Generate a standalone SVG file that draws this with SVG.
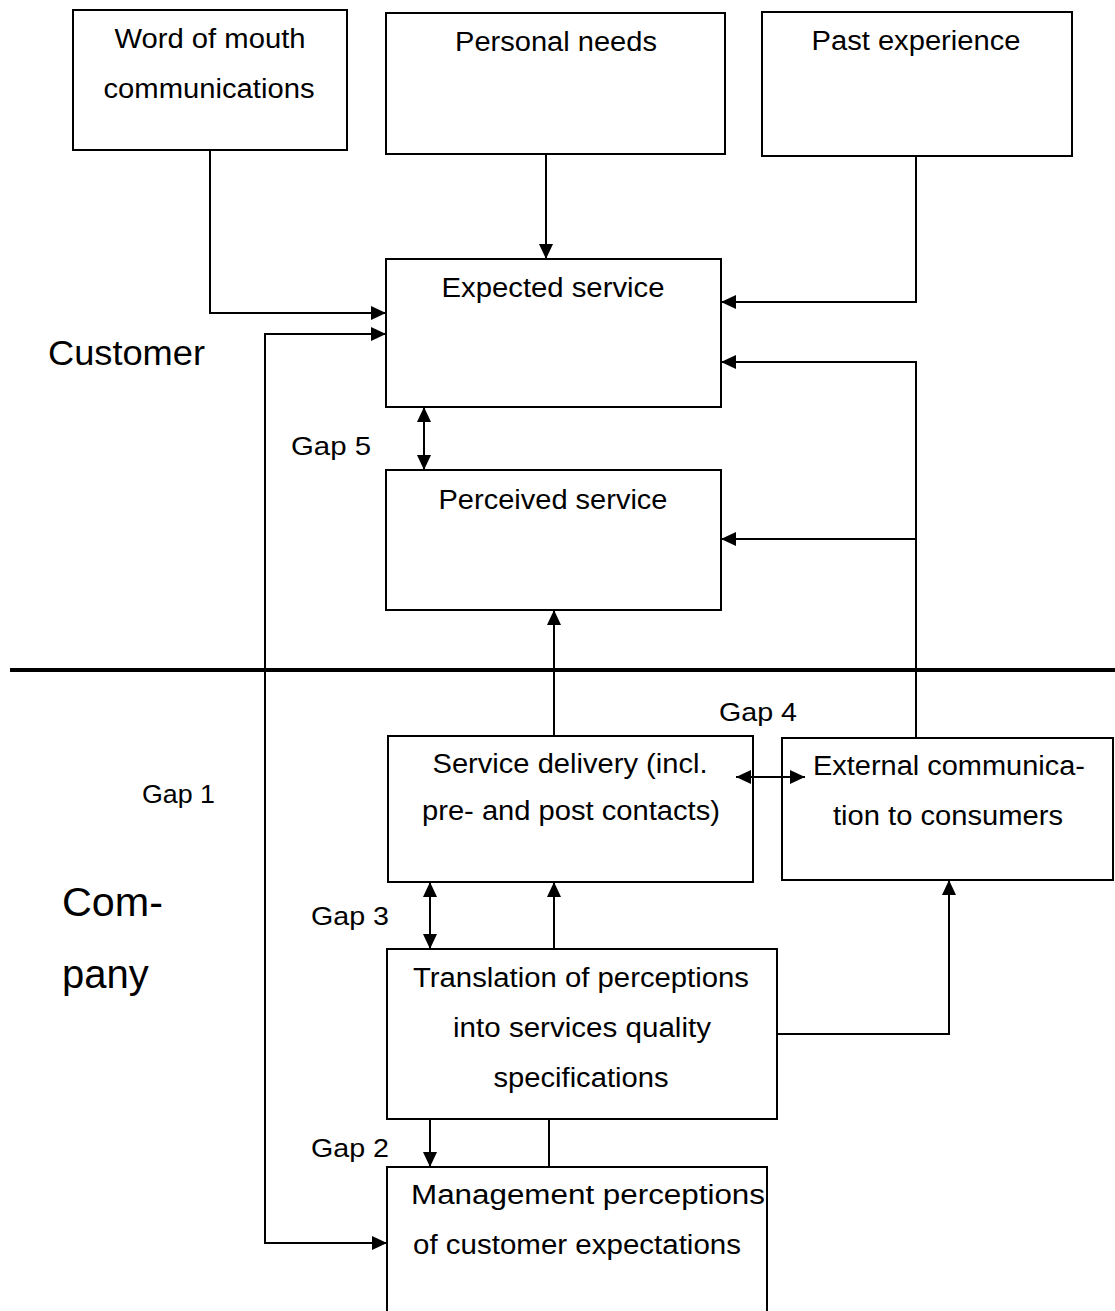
<svg xmlns="http://www.w3.org/2000/svg" width="1115" height="1311" viewBox="0 0 1115 1311">
<defs>
<marker id="ah" markerUnits="userSpaceOnUse" markerWidth="16" markerHeight="14" refX="15" refY="7" orient="auto-start-reverse">
<path d="M0,0 L15,7 L0,14 z" fill="#000"/>
</marker>
<style>
.box{fill:#fff;stroke:#000;stroke-width:2}
.t{font-family:"Liberation Sans",Arial,sans-serif;font-size:27px;fill:#000;text-anchor:middle}
.g{font-family:"Liberation Sans",Arial,sans-serif;font-size:26px;fill:#000}
.big{font-family:"Liberation Sans",Arial,sans-serif;fill:#000}
.c{fill:none;stroke:#000;stroke-width:2}
.a{marker-end:url(#ah)}
.s{marker-start:url(#ah)}
.d{marker-start:url(#ah);marker-end:url(#ah)}
</style>
</defs>
<rect width="1115" height="1311" fill="#fff"/>

<g id="word-of-mouth">
<rect class="box" x="73" y="10" width="274" height="140"/>
<text class="t" x="210" y="48" textLength="191" lengthAdjust="spacingAndGlyphs">Word of mouth</text>
<text class="t" x="209" y="98" textLength="211" lengthAdjust="spacingAndGlyphs">communications</text>
</g>
<g id="personal-needs">
<rect class="box" x="386" y="13" width="339" height="141"/>
<text class="t" x="556" y="51" textLength="202" lengthAdjust="spacingAndGlyphs">Personal needs</text>
</g>
<g id="past-experience">
<rect class="box" x="762" y="12" width="310" height="144"/>
<text class="t" x="916" y="50" textLength="209" lengthAdjust="spacingAndGlyphs">Past experience</text>
</g>
<g id="expected-service">
<rect class="box" x="386" y="259" width="335" height="148"/>
<text class="t" x="553" y="297" textLength="223" lengthAdjust="spacingAndGlyphs">Expected service</text>
</g>
<g id="perceived-service">
<rect class="box" x="386" y="470" width="335" height="140"/>
<text class="t" x="553" y="509" textLength="229" lengthAdjust="spacingAndGlyphs">Perceived service</text>
</g>
<g id="service-delivery">
<rect class="box" x="388" y="736" width="365" height="146"/>
<text class="t" x="570" y="773" textLength="275" lengthAdjust="spacingAndGlyphs">Service delivery (incl.</text>
<text class="t" x="571" y="820" textLength="298" lengthAdjust="spacingAndGlyphs">pre- and post contacts)</text>
</g>
<g id="external-communication">
<rect class="box" x="782" y="738" width="331" height="142"/>
<text class="t" x="949" y="775" textLength="272" lengthAdjust="spacingAndGlyphs">External communica-</text>
<text class="t" x="948" y="825" textLength="230" lengthAdjust="spacingAndGlyphs">tion to consumers</text>
</g>
<g id="translation">
<rect class="box" x="387" y="949" width="390" height="170"/>
<text class="t" x="581" y="987" textLength="336" lengthAdjust="spacingAndGlyphs">Translation of perceptions</text>
<text class="t" x="582" y="1037" textLength="258" lengthAdjust="spacingAndGlyphs">into services quality</text>
<text class="t" x="581" y="1087" textLength="175" lengthAdjust="spacingAndGlyphs">specifications</text>
</g>
<g id="management">
<rect class="box" x="387" y="1167" width="380" height="160"/>
<text class="t" x="588" y="1204" textLength="354" lengthAdjust="spacingAndGlyphs">Management perceptions</text>
<text class="t" x="577" y="1254" textLength="328" lengthAdjust="spacingAndGlyphs">of customer expectations</text>
</g>

<g id="connectors">
<line x1="10" y1="670" x2="1115" y2="670" stroke="#000" stroke-width="4"/>
<polyline class="c a" points="210,150 210,313 386,313"/>
<polyline class="c d" points="387,1243 265,1243 265,334 386,334"/>
<line class="c a" x1="546" y1="154" x2="546" y2="259"/>
<polyline class="c a" points="916,156 916,302 721,302"/>
<polyline class="c a" points="916,738 916,362 721,362"/>
<line class="c a" x1="916" y1="539" x2="721" y2="539"/>
<line class="c d" x1="424" y1="407" x2="424" y2="470"/>
<line class="c a" x1="554" y1="736" x2="554" y2="610"/>
<line class="c d" x1="736" y1="777" x2="805" y2="777"/>
<line class="c d" x1="430" y1="882" x2="430" y2="949"/>
<line class="c a" x1="554" y1="949" x2="554" y2="882"/>
<polyline class="c a" points="777,1034 949,1034 949,880"/>
<line class="c a" x1="430" y1="1119" x2="430" y2="1167"/>
<line class="c" x1="549" y1="1119" x2="549" y2="1167"/>
</g>

<g id="labels">
<text class="big" x="48" y="365" font-size="35" textLength="157" lengthAdjust="spacingAndGlyphs">Customer</text>
<text class="big" x="62" y="916" font-size="40" textLength="101" lengthAdjust="spacingAndGlyphs">Com-</text>
<text class="big" x="62" y="988" font-size="40">pany</text>
<text class="g" x="291" y="455" textLength="80" lengthAdjust="spacingAndGlyphs">Gap 5</text>
<text class="g" x="142" y="803" textLength="73" lengthAdjust="spacingAndGlyphs">Gap 1</text>
<text class="g" x="719" y="721" textLength="78" lengthAdjust="spacingAndGlyphs">Gap 4</text>
<text class="g" x="311" y="925" textLength="78" lengthAdjust="spacingAndGlyphs">Gap 3</text>
<text class="g" x="311" y="1157" textLength="78" lengthAdjust="spacingAndGlyphs">Gap 2</text>
</g>
</svg>
